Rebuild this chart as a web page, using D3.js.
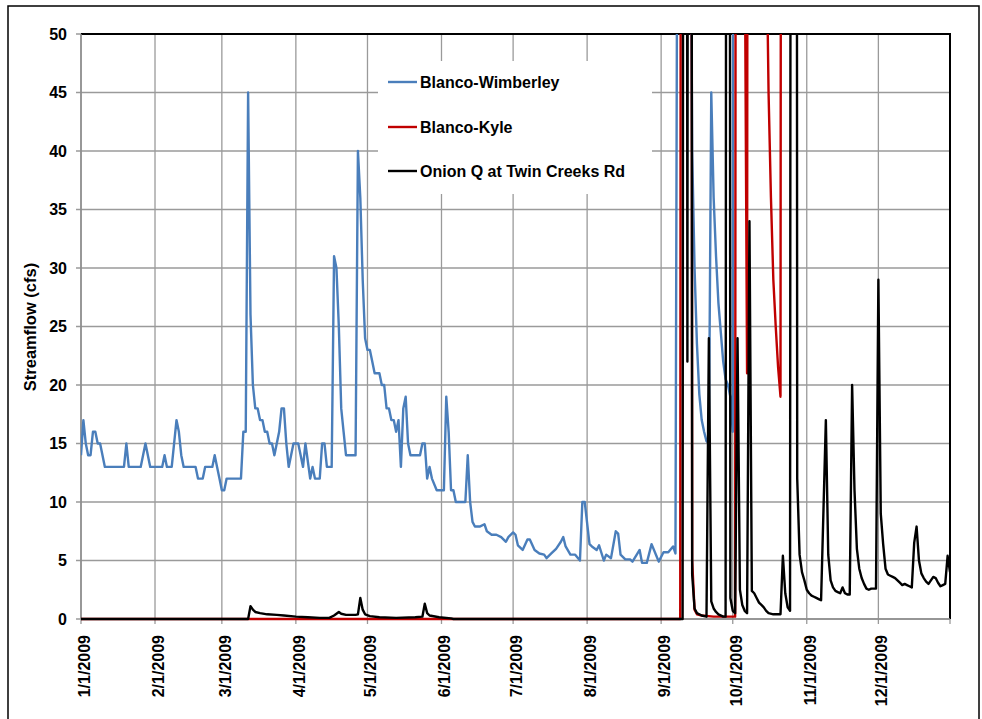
<!DOCTYPE html>
<html><head><meta charset="utf-8">
<script src="https://cdn.jsdelivr.net/npm/d3@7"></script>
<style>
body{margin:0;background:#fff}
text{font-family:Arial,"Liberation Sans",sans-serif;font-weight:bold;fill:#000}
</style>
</head><body>
<svg id="chart" width="982" height="719"></svg>
<script>
// ---------------- data ----------------
const seriesNames = ["Blanco-Wimberley", "Blanco-Kyle", "Onion Q at Twin Creeks Rd"];
const yTickValues = [0, 5, 10, 15, 20, 25, 30, 35, 40, 45, 50];
const xTickLabels = ["1/1/2009","2/1/2009","3/1/2009","4/1/2009","5/1/2009","6/1/2009",
                     "7/1/2009","8/1/2009","9/1/2009","10/1/2009","11/1/2009","12/1/2009"];
const yTitle = "Streamflow (cfs)";

// day of year 2009 (0 = Jan 1) and streamflow (cfs)
const wimbDay = [0,1,2,3,4,5,6,7,8,10,18,19,20,25,27,29,34,35,36,38,40,41,42,43,48,49,51,52,55,56,57,58,59,60,61,67,68,69,70,71,72,73,74,75,76,77,78,79,80,81,82,83,84,85,86,87,88,89,91,93,94,96,97,98,100,101,102,103,105,106,107,108,109,110,111,115,116,117,118,119,120,121,122,123,125,126,127,128,129,130,131,132,133,134,135,136,137,138,142,143,144,145,146,147,149,152,153,154,155,156,157,161,162,163,164,165,167,169,170,172,174,176,178,179,181,182,183,185,187,188,190,192,194,195,197,199,201,202,203,205,207,209,210,211,213,214,216,217,219,220,222,224,225,226,228,230,231,234,235,237,239,241,242,244,246,248,249,250,251,252,253,254,255,256,257,258,259,260,261,262,263,264,265,266,267,268,269,270,271,272,273,274,280,290,300,310,320,330,340,350,364];
const wimbValue = [14,17,15,14,14,16,16,15,15,13,13,15,13,13,15,13,13,14,13,13,17,16,14,13,13,12,12,13,13,14,13,12,11,11,12,12,16,16,45,26,20,18,18,17,17,16,16,15,15,14,15,16,18,18,15,13,14,15,15,13,15,12,13,12,12,15,15,13,13,31,30,25,18,16,14,14,40,36,29,24,23,23,22,21,21,20,20,18,18,17,17,16,17,13,18,19,15,14,14,15,15,12,13,12,11,11,19,16,11,11,10,10,14,10,8.3,7.9,7.9,8.1,7.5,7.2,7.2,7.0,6.6,7.0,7.4,7.2,6.3,5.9,6.8,6.8,5.9,5.6,5.5,5.2,5.6,6.0,6.6,7.0,6.2,5.5,5.5,5.0,10,10,6.4,6.2,5.9,6.3,5.0,5.5,5.2,7.5,7.3,5.5,5.1,5.1,4.9,5.9,4.8,4.8,6.4,5.4,4.9,5.7,5.7,6.2,5.6,80,400,600,450,250,80,40,30,23.5,19.2,17,16,15.2,15,45,36,31,27,24.5,22,20.5,20,19,16,300,900,500,1200,300,250,200,180,170,160];

const kyleDay = [0,251,252,253,254,255,256,257,258,260,265,274,275,276,277,278,279,280,283,286,287,288,289,290,291,292,293,294,300,310,320,330,340,350,364];
const kyleValue = [0,0,300,500,450,300,5,0.8,0.4,0.3,0.2,0.2,300,400,200,60,21,300,250,150,60,45,36,29,25,21.5,19,300,800,400,300,250,200,180,170];

const onionDay = [0,70,71,72,73,75,78,82,85,90,95,100,104,106,108,109,111,115,116,117,118,119,121,125,132,140,143,144,145,146,150,155,156,252,253,254,255,256,257,258,260,262,263,264,265,266,267,269,270,271,272,273,274,275,276,277,278,279,280,281,282,283,284,285,286,287,288,290,293,294,295,296,297,298,299,300,301,302,303,304,305,306,307,308,309,310,312,313,314,315,316,317,318,319,320,321,322,323,324,325,326,327,328,329,330,331,333,334,335,336,337,338,339,340,341,342,343,344,345,346,347,348,349,350,351,352,353,354,355,356,357,358,359,360,361,362,363,364];
const onionValue = [0,0,1.1,0.8,0.6,0.5,0.4,0.35,0.3,0.2,0.15,0.1,0.1,0.3,0.6,0.45,0.35,0.35,0.4,1.8,0.8,0.4,0.25,0.15,0.1,0.15,0.2,1.3,0.5,0.3,0.15,0.05,0,0,300,22,300,3.8,0.9,0.5,0.3,0.2,24,1.5,0.9,0.6,0.4,0.2,0.2,300,1.8,0.7,0.5,24,2.5,1.2,0.7,0.5,34,2.4,2.2,1.8,1.4,1.2,1.0,0.7,0.5,0.4,0.4,5.4,2.2,1.0,0.7,300,400,12,5.5,4.0,3.3,2.5,2.2,2.0,1.9,1.8,1.7,1.6,17,5.5,3.3,2.7,2.4,2.3,2.2,2.7,2.2,2.1,2.1,20,11,6,4.3,3.5,3.0,2.6,2.5,2.6,2.6,29,9,6.4,4.3,3.8,3.7,3.6,3.5,3.3,3.1,2.9,3.0,2.9,2.8,2.7,6.5,7.9,5.0,3.9,3.5,3.2,3.0,3.3,3.6,3.5,3.1,2.8,2.9,3.0,5.4,4.0];

const seriesColors = ["#4A7EBB", "#C00000", "#000000"];

// ---------------- drawing ----------------
const svg = d3.select("#chart");
const start = new Date(2009, 0, 1);
const toDate = d => d3.timeDay.offset(start, d);
const parseLabel = d3.timeParse("%m/%d/%Y");

const L = 81, R = 950, T = 34, B = 619;
const x = d3.scaleTime().domain([start, new Date(2009, 11, 31)]).range([L, R]);
const y = d3.scaleLinear().domain([0, 50]).range([B, T]);

// outer chart border
svg.append("rect").attr("x", 8).attr("y", 6).attr("width", 971).attr("height", 730)
  .attr("fill", "none").attr("stroke", "#000").attr("stroke-width", 1.5);

// gridlines
const grid = svg.append("g").attr("stroke", "#9a9a9a").attr("stroke-width", 1.3);
yTickValues.forEach(v => {
  grid.append("line").attr("x1", L - 5).attr("x2", R).attr("y1", y(v)).attr("y2", y(v));
});
xTickLabels.forEach(lbl => {
  const xx = x(parseLabel(lbl));
  grid.append("line").attr("x1", xx).attr("x2", xx).attr("y1", T).attr("y2", B + 5);
});
grid.append("line").attr("x1", R).attr("x2", R).attr("y1", B).attr("y2", B + 5);

// legend background (covers gridlines)
svg.append("rect").attr("x", 378).attr("y", 61).attr("width", 274).attr("height", 133).attr("fill", "#fff");

// plot border
svg.append("line").attr("x1", L).attr("x2", R + 1).attr("y1", T).attr("y2", T).attr("stroke", "#000").attr("stroke-width", 2);
svg.append("line").attr("x1", R).attr("x2", R).attr("y1", T).attr("y2", B).attr("stroke", "#000").attr("stroke-width", 2);
svg.append("line").attr("x1", L).attr("x2", L).attr("y1", T).attr("y2", B).attr("stroke", "#8c8c8c").attr("stroke-width", 1.5);
svg.append("line").attr("x1", L).attr("x2", R).attr("y1", B).attr("y2", B).attr("stroke", "#8c8c8c").attr("stroke-width", 1.5);

// clip
svg.append("defs").append("clipPath").attr("id", "clip")
  .append("rect").attr("x", L).attr("y", T).attr("width", R - L).attr("height", B - T + 3);

const line = d3.line().x(d => x(d[0])).y(d => y(d[1]));
const allSeries = [
  wimbDay.map((d, i) => [toDate(d), wimbValue[i]]),
  kyleDay.map((d, i) => [toDate(d), kyleValue[i]]),
  onionDay.map((d, i) => [toDate(d), onionValue[i]])
];
const lines = svg.append("g").attr("clip-path", "url(#clip)");
allSeries.forEach((s, i) => {
  lines.append("path").datum(s).attr("d", line)
    .attr("fill", "none").attr("stroke", seriesColors[i])
    .attr("stroke-width", 2.4).attr("stroke-linejoin", "round");
});

// y tick labels
yTickValues.forEach(v => {
  svg.append("text").attr("x", 67).attr("y", y(v)).attr("dy", "0.36em")
    .attr("text-anchor", "end").attr("font-size", 16).text(v);
});
// x tick labels
xTickLabels.forEach(lbl => {
  const xx = x(parseLabel(lbl));
  svg.append("text").attr("transform", `translate(${xx + 3},635) rotate(-90)`)
    .attr("dy", "0.36em").attr("text-anchor", "end").attr("font-size", 16).text(lbl);
});
// y title
svg.append("text").attr("transform", "translate(30,327) rotate(-90)")
  .attr("text-anchor", "middle").attr("dy", "0.36em").attr("font-size", 16.5).text(yTitle);

// legend
const legY = [82, 127, 171];
seriesNames.forEach((n, i) => {
  svg.append("line").attr("x1", 388).attr("x2", 417).attr("y1", legY[i]).attr("y2", legY[i])
    .attr("stroke", seriesColors[i]).attr("stroke-width", 2.4);
  svg.append("text").attr("x", 420).attr("y", legY[i]).attr("dy", "0.36em")
    .attr("font-size", 16).text(n);
});
</script>
</body></html>
